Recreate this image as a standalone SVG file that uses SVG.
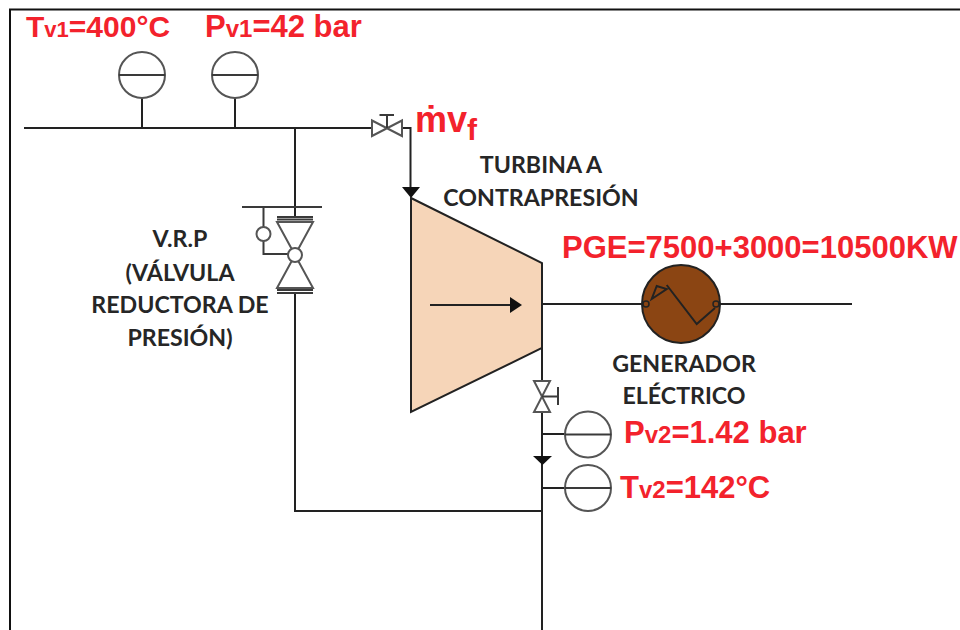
<svg xmlns="http://www.w3.org/2000/svg" width="960" height="630" viewBox="0 0 960 630">
<style>
.l{fill:none;stroke:#3a3a3a;stroke-width:2}
.k{fill:none;stroke:#222;stroke-width:2}
.g{fill:#fff;stroke:#555;stroke-width:2}
.a{fill:#111;stroke:none}
.r{font-family:"Liberation Sans",Arial,sans-serif;font-weight:700;fill:#f3222c;font-size:31px}
.s{font-size:24px}
.b{font-family:Lato,"Open Sans",sans-serif;font-weight:700;fill:#262626;font-size:23.200px;text-anchor:middle}
</style>
<defs>
<g id="gauge"><circle r="23" class="g"/><path d="M-23 0H23" class="l"/></g>
</defs>
<rect width="960" height="630" fill="#fff"/>
<path id="frame" d="M10 630V9.500H960" fill="none" stroke="#111" stroke-width="2"/>
<g id="connectors">
<path class="k" d="M24 128H372M402 128H410.500V190M295 128V217M295 293V511H542M142 98V128M235 98V128"/>
<path class="k" d="M542 348V381M542 412V630M542 434H565M542 488H565"/>
<path class="k" d="M542 304H642M720 304H852"/>
<path class="a" d="M402 187H420L411 198Z"/>
<path class="a" d="M533 456H552L542.500 465Z"/>
</g>
<g id="turbine">
<path d="M411 198L542 263V348L411 412Z" fill="#f6d5b8" stroke="#222" stroke-width="2"/>
<path d="M430 305H520" class="k"/>
<path class="a" d="M510 297L522 305L510 313Z"/>
</g>
<g id="valve-top">
<path d="M372 120.500L402 136V120.500L372 136Z" fill="#fff" stroke="#555" stroke-width="2"/>
<path d="M387 128V115M379.500 115H394" class="l"/>
</g>
<g id="vrp">
<path d="M242 207H322M277 217H313M277 219.500H313M277 290H313M277 293H313" class="l"/>
<path d="M277 222H313L295 255L277 288H313L295 255Z" fill="#fff" stroke="#555" stroke-width="2"/>
<path d="M263.500 207V227M263.500 241V254H288" class="l"/>
<circle cx="263.500" cy="234" r="7" class="g"/>
<circle cx="295" cy="255" r="7" class="g"/>
</g>
<g id="generator">
<circle cx="681" cy="304" r="39" fill="#8b4513" stroke="#222" stroke-width="2"/>
<path d="M666.700 285L696.700 324L715 308M656.700 286L651.700 299L666.700 289Z" fill="none" stroke="#222" stroke-width="2"/>
<circle cx="646" cy="304" r="3" fill="#8b4513" stroke="#222" stroke-width="1.500"/>
<circle cx="716" cy="304" r="3" fill="#8b4513" stroke="#222" stroke-width="1.500"/>
</g>
<g id="valve-bottom">
<path d="M534 381H550L534 412H550Z" fill="#fff" stroke="#555" stroke-width="2"/>
<path d="M542 396.500H558M558 387V405" class="l"/>
</g>
<use id="gauge-t1" href="#gauge" x="142" y="75"/>
<use id="gauge-p1" href="#gauge" x="235" y="75"/>
<use id="gauge-p2" href="#gauge" x="588" y="434.500"/>
<use id="gauge-t2" href="#gauge" x="588" y="488"/>
<g id="labels">
<text class="r" x="26" y="37" style="font-size:30px">T<tspan style="font-size:22px">v1</tspan>=400°C</text>
<text class="r" x="205" y="37">P<tspan class="s">v1</tspan>=42 bar</text>
<text class="r" x="415" y="132" style="font-size:36px">ṁv<tspan dy="8" style="font-size:30px">f</tspan></text>
<text class="r" x="562" y="258">PGE=7500+3000=10500KW</text>
<text class="r" x="624" y="443">P<tspan class="s">v2</tspan>=1.42 bar</text>
<text class="r" x="620" y="498">T<tspan class="s">v2</tspan>=142°C</text>
<text class="b" x="541" y="173">TURBINA A</text>
<text class="b" x="541" y="206">CONTRAPRESIÓN</text>
<text class="b" x="180" y="247">V.R.P</text>
<text class="b" x="180" y="281">(VÁLVULA</text>
<text class="b" x="180" y="313">REDUCTORA DE</text>
<text class="b" x="180" y="346">PRESIÓN)</text>
<text class="b" x="684" y="372">GENERADOR</text>
<text class="b" x="684" y="404">ELÉCTRICO</text>
</g>
</svg>
